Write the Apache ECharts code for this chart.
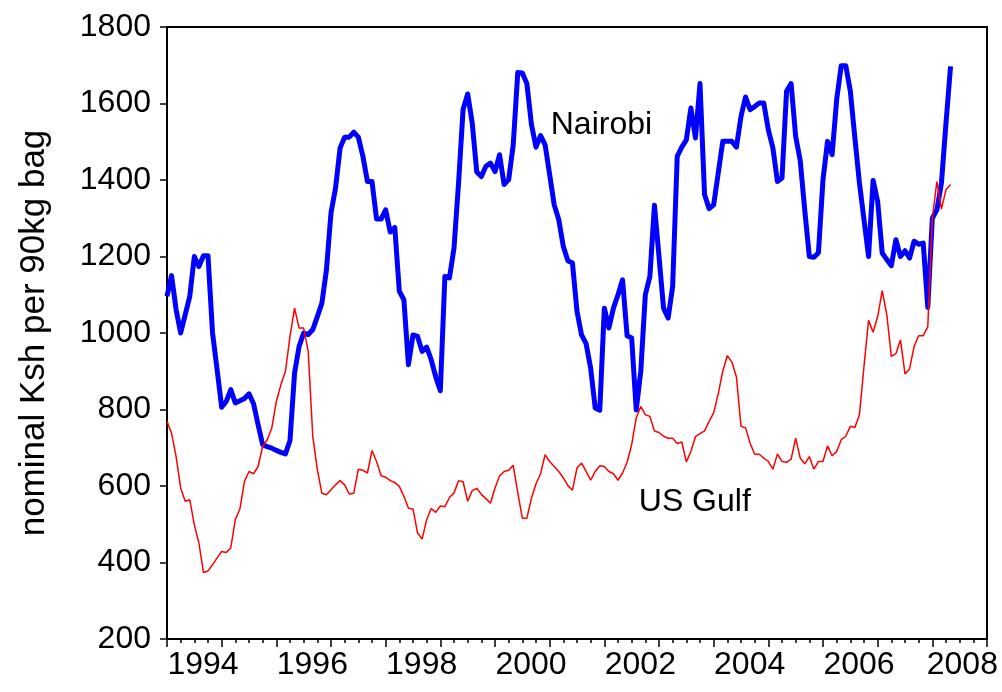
<!DOCTYPE html>
<html>
<head>
<meta charset="UTF-8">
<title>Nairobi vs US Gulf</title>
<script src="https://cdn.jsdelivr.net/npm/echarts@6.0.0/dist/echarts.min.js"></script>
<style>
  html, body { margin: 0; padding: 0; background: #fff; }
  #chart { width: 1002px; height: 692px; }
</style>
</head>
<body>
<div id="chart"></div>
<script>
// monthly series, first observation 1994M01
const startYear = 1994;

const nairobi = [
  1096, 1150, 1061, 1000, 1048, 1096, 1200, 1174, 1202, 1202, 1000, 904,
  806, 821, 852, 817, 823, 829, 841, 815, 760, 708, 703, 699,
  693, 688, 684, 719, 895, 965, 1000, 996, 1009, 1043, 1078, 1165,
  1314, 1379, 1484, 1512, 1512, 1525, 1512, 1462, 1396, 1396, 1298, 1298,
  1322, 1264, 1276, 1109, 1087, 917, 995, 991, 952, 963, 930, 885,
  849, 1148, 1144, 1222, 1392, 1585, 1625, 1549, 1421, 1409, 1436, 1444,
  1422, 1466, 1388, 1401, 1492, 1681, 1680, 1652, 1545, 1486, 1516, 1492,
  1414, 1335, 1296, 1226, 1189, 1183, 1057, 995, 972, 908, 804, 798,
  1065, 1013, 1065, 1100, 1139, 993, 987, 799, 900, 1100, 1148, 1334,
  1200, 1065, 1039, 1122, 1462, 1486, 1505, 1588, 1510, 1652, 1362, 1325,
  1335, 1418, 1501, 1501, 1501, 1486, 1566, 1617, 1584, 1592, 1601, 1601,
  1531, 1484, 1396, 1405, 1632, 1652, 1514, 1451, 1320, 1200, 1198, 1210,
  1401, 1501, 1466, 1610, 1699, 1699, 1632, 1510, 1392, 1296, 1200, 1399,
  1344, 1209, 1192, 1176, 1244, 1200, 1215, 1196, 1240, 1232, 1235, 1067,
  1300, 1322, 1392, 1549, 1697
];

const usGulf = [
  769, 738, 677, 595, 560, 564, 499, 451, 374, 378, 394, 412,
  429, 426, 438, 512, 540, 612, 638, 632, 651, 704, 721, 751,
  821, 865, 900, 991, 1065, 1013, 1013, 952, 730, 643, 581, 577,
  590, 603, 614, 603, 579, 581, 644, 641, 634, 693, 664, 627,
  623, 614, 609, 599, 573, 542, 540, 477, 461, 512, 541, 531,
  548, 546, 570, 582, 614, 611, 560, 588, 594, 578, 567, 555,
  595, 626, 638, 641, 654, 582, 516, 516, 568, 606, 632, 682,
  664, 651, 638, 621, 601, 589, 647, 660, 638, 615, 638, 653,
  651, 638, 632, 615, 634, 662, 708, 778, 808, 786, 782, 744,
  740, 730, 725, 725, 711, 715, 663, 690, 729, 737, 744, 769,
  791, 841, 900, 941, 924, 885, 756, 752, 712, 683, 683, 673,
  664, 644, 684, 664, 662, 670, 725, 673, 658, 677, 644, 664,
  664, 705, 679, 690, 721, 730, 756, 753, 786, 913, 1033, 1002,
  1043, 1111, 1048, 939, 946, 982, 893, 906, 965, 993, 993, 1016,
  1300, 1396, 1324, 1375, 1388
];

const yTicks = [200, 400, 600, 800, 1000, 1200, 1400, 1600, 1800];
const yearLabels = [1994, 1996, 1998, 2000, 2002, 2004, 2006, 2008];

// text labels placed in data coordinates [year, value]
const nairobiLabelAt = [2001.02, 1543];
const gulfLabelAt = [2002.63, 559];

const FONT = '"Liberation Sans", Arial, sans-serif';

function toPoints(values) {
  return values.map(function (v, i) { return [startYear + i / 12, v]; });
}

const chart = echarts.init(document.getElementById('chart'));

const labelTok = { fontSize: 32, fontFamily: FONT, color: '#000' };

chart.setOption({
  animation: false,
  backgroundColor: '#fff',
  grid: {
    left: 167, right: 15, top: 27, bottom: 53,
    show: true, borderColor: '#000', borderWidth: 2
  },
  xAxis: {
    type: 'value',
    min: 1994,
    max: 2009,
    interval: 1,
    axisLine: { show: true, lineStyle: { color: '#000', width: 2 } },
    axisTick: { show: true, length: 8, lineStyle: { color: '#000', width: 1.5 } },
    minorTick: { show: true, splitNumber: 4, length: 4, lineStyle: { color: '#000', width: 1.5 } },
    splitLine: { show: false },
    axisLabel: {
      showMaxLabel: false,
      margin: 10,
      align: 'center',
      fontSize: 32,
      fontFamily: FONT,
      color: '#000',
      formatter: function (v) {
        if (yearLabels.indexOf(v) < 0) return '';
        return v === 2008 ? '{e|' + v + '}' : '{n|' + v + '}';
      },
      rich: {
        n: Object.assign({ padding: [0, 0, 0, 72] }, labelTok),
        e: Object.assign({ padding: [0, 0, 0, 60] }, labelTok)
      }
    }
  },
  yAxis: {
    type: 'value',
    min: yTicks[0],
    max: yTicks[yTicks.length - 1],
    interval: 200,
    name: 'nominal Ksh per 90kg bag',
    nameLocation: 'middle',
    nameGap: 115,
    nameTextStyle: { fontSize: 35, fontFamily: FONT, color: '#000' },
    axisLine: { show: true, lineStyle: { color: '#000', width: 2 } },
    axisTick: { show: true, length: 7, lineStyle: { color: '#000', width: 1.5 } },
    splitLine: { show: false },
    axisLabel: {
      margin: 16, fontSize: 32, fontFamily: FONT, color: '#000',
      formatter: function (v) { return String(v); }
    }
  },
  series: [
    {
      name: 'Nairobi',
      type: 'line',
      data: toPoints(nairobi),
      symbol: 'none',
      lineStyle: { color: '#0000ff', width: 5, join: 'round' },
      z: 2
    },
    {
      name: 'US Gulf',
      type: 'line',
      data: toPoints(usGulf),
      symbol: 'none',
      lineStyle: { color: '#ff0000', width: 1.5 },
      z: 3
    }
  ]
});

// series names written inside the plot
const pN = chart.convertToPixel({ gridIndex: 0 }, nairobiLabelAt);
const pG = chart.convertToPixel({ gridIndex: 0 }, gulfLabelAt);
chart.setOption({
  graphic: [
    {
      type: 'text', x: pN[0], y: pN[1],
      style: { text: 'Nairobi', fontSize: 32, fontFamily: FONT, fill: '#000', verticalAlign: 'middle' }
    },
    {
      type: 'text', x: pG[0], y: pG[1],
      style: { text: 'US Gulf', fontSize: 32, fontFamily: FONT, fill: '#000', verticalAlign: 'middle' }
    }
  ]
});
</script>
</body>
</html>
